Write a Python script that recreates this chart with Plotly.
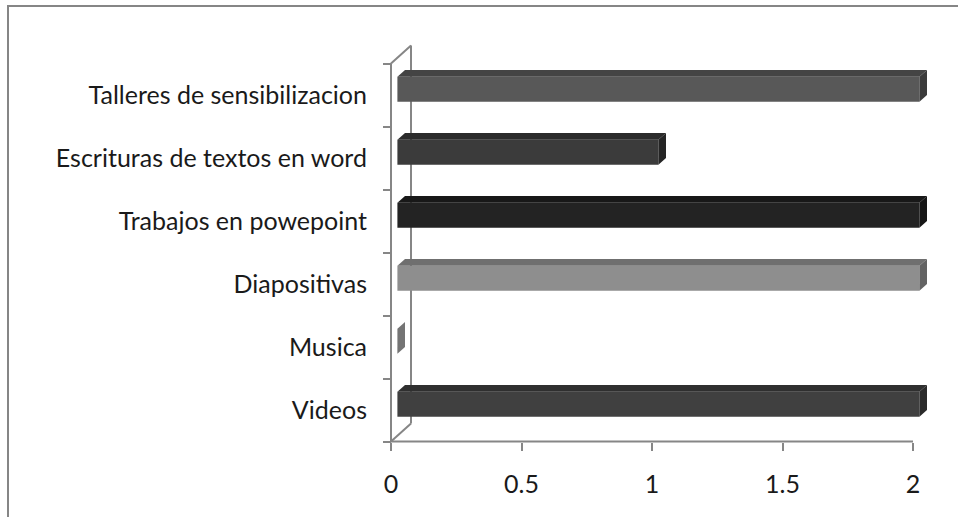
import plotly.graph_objects as go

# ---- data (bottom to top) ----
categories = ["Videos", "Musica", "Diapositivas", "Trabajos en powepoint",
              "Escrituras de textos en word", "Talleres de sensibilizacion"]
values = [2, 0, 2, 2, 1, 2]
x_ticks = [0, 0.5, 1, 1.5, 2]
x_tick_text = ["0", "0.5", "1", "1.5", "2"]

front_colors = ["#404040", "#7e7e7e", "#8e8e8e", "#232323", "#3b3b3b", "#585858"]
top_colors = ["#2f2f2f", "#6a6a6a", "#6f6f6f", "#181818", "#2b2b2b", "#444444"]
side_colors = ["#2a2a2a", "#747474", "#636363", "#161616", "#252525", "#3b3b3b"]

# ---- geometry (pixel layout) ----
W, H = 958, 517
L, R, T, B = 379, 19, 43, 68
PW, PH = W - L - R, H - T - B
PX = 261.0            # px per x unit
PY = 63.0             # px per category
x0_px = 391           # pixel of x = 0 (front plane)
ybot_px = 441.5       # pixel of category -0.5 (front plane)

xmin = -(x0_px - L) / PX
xmax = xmin + PW / PX
ymin = -0.5 - ((H - B) - ybot_px) / PY
ymax = ymin + PH / PY

Dx = 20 / PX          # depth vector in data units
Dy = 18 / PY
f1, f2 = 0.32, 0.70   # bar depth fractions
h = 12.5 / PY         # half bar height

gray = "#868686"

fig = go.Figure()
fig.add_trace(go.Bar(
    orientation="h",
    y=categories,
    x=values,
    base=[f1 * Dx] * len(values),
    offset=f1 * Dy - h,
    width=2 * h,
    marker=dict(color=front_colors, line=dict(width=0)),
    hoverinfo="x+y",
))

shapes = []
# wall / axis frame
wall = [
    ((0, -0.5), (0, 5.5)),
    ((Dx, -0.5 + Dy), (Dx, 5.5 + Dy)),
    ((0, 5.5), (Dx, 5.5 + Dy)),
    ((0, -0.5), (Dx, -0.5 + Dy)),
    ((0, -0.5), (2, -0.5)),
]
for (xa, ya), (xb, yb) in wall:
    shapes.append(dict(type="line", xref="x", yref="y", x0=xa, y0=ya, x1=xb, y1=yb,
                       line=dict(color=gray, width=2), layer="below"))

# 3D faces of bars
for i, v in enumerate(values):
    xs = f1 * Dx
    xe = v + f1 * Dx
    yt = i + f1 * Dy + h
    yb_ = i + f1 * Dy - h
    ddx = (f2 - f1) * Dx
    ddy = (f2 - f1) * Dy
    if v > 0:
        top = f"M{xs},{yt} L{xs+ddx},{yt+ddy} L{xe+ddx},{yt+ddy} L{xe},{yt} Z"
        shapes.append(dict(type="path", xref="x", yref="y", path=top,
                           fillcolor=top_colors[i], line=dict(width=0), layer="above"))
    side = f"M{xe},{yb_} L{xe},{yt} L{xe+ddx},{yt+ddy} L{xe+ddx},{yb_+ddy} Z"
    shapes.append(dict(type="path", xref="x", yref="y", path=side,
                       fillcolor=side_colors[i], line=dict(width=0), layer="above"))

# outer chart frame
def px_to_paper_x(px):
    return (px - L) / PW

def px_to_paper_y(py):
    return ((H - B) - py) / PH

shapes.append(dict(type="rect", xref="paper", yref="paper",
                   x0=px_to_paper_x(8), x1=px_to_paper_x(975),
                   y0=px_to_paper_y(540), y1=px_to_paper_y(6),
                   line=dict(color=gray, width=2), fillcolor="rgba(0,0,0,0)"))

font = dict(family="Lato, 'Open Sans', sans-serif", size=25, color="#1a1a1a")

fig.update_layout(
    width=W, height=H,
    margin=dict(l=L, r=R, t=T, b=B, autoexpand=False),
    paper_bgcolor="white", plot_bgcolor="white",
    showlegend=False,
    shapes=shapes,
    font=font,
    xaxis=dict(
        range=[xmin, xmax], showgrid=False, zeroline=False, showline=False,
        tickvals=x_ticks, ticktext=x_tick_text, ticks="outside", ticklen=8,
        tickwidth=2, tickcolor=gray, ticklabelstandoff=12,
        anchor="free", position=((H - B) - ybot_px) / PH,
        tickfont=font, automargin=False,
    ),
    yaxis=dict(
        type="category", categoryorder="array", categoryarray=categories,
        range=[ymin, ymax], showgrid=False, zeroline=False, showline=False,
        ticks="outside", tickson="boundaries", ticklen=8, tickwidth=2,
        tickcolor=gray, ticklabelstandoff=24,
        anchor="free", position=(x0_px - L) / PW,
        tickfont=font, automargin=False,
    ),
)

fig.write_html(
    "out.html",
    config={"displayModeBar": False},
    post_script="document.body.style.margin='0';document.body.style.overflow='hidden';",
)
